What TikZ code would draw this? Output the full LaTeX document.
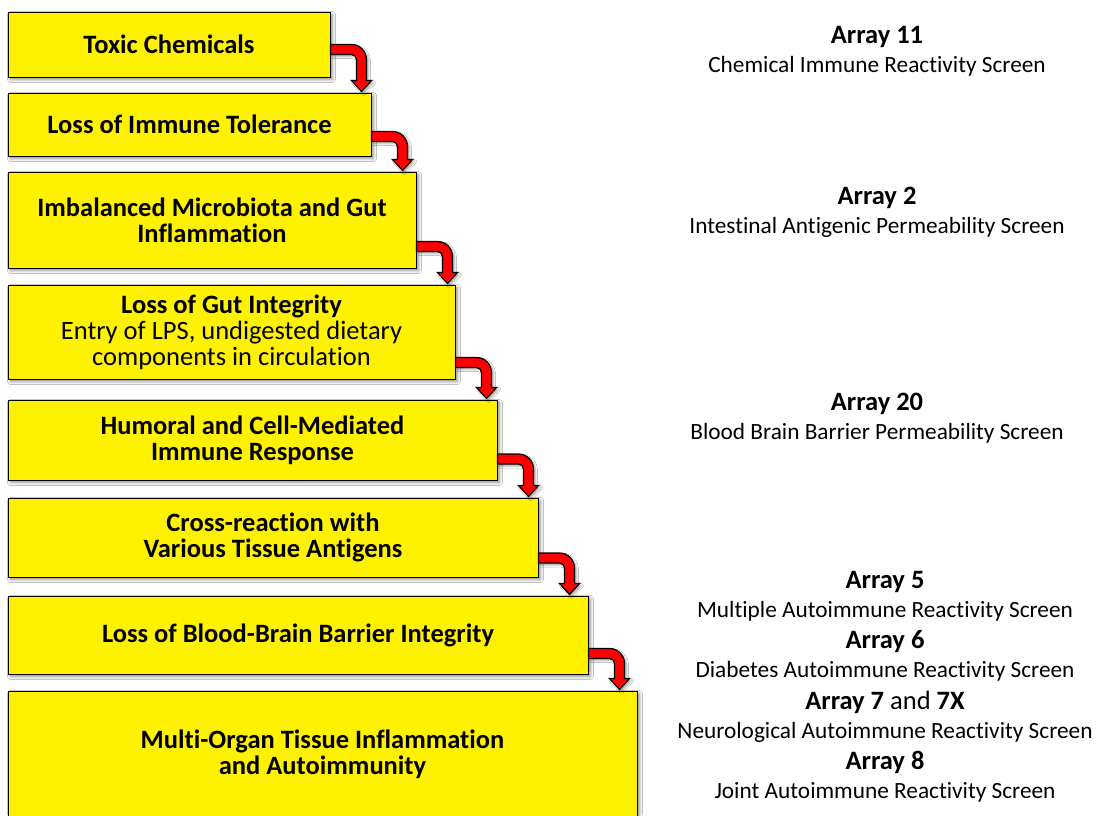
\documentclass[tikz,border=0pt]{standalone}
\usepackage{fontspec}
\setmainfont{Carlito}[Ligatures=NoCommon]
\usetikzlibrary{calc,shadows.blur}
\tikzset{
  stage/.style={draw=black, line width=1pt, fill=yellow, inner sep=0pt, align=center,
    font=\bfseries\fontsize{26.5}{26}\selectfont,
    blur shadow={shadow xshift=2.5pt, shadow yshift=-2.5pt, shadow blur radius=3pt, shadow opacity=45}},
  arr/.style={fill=red, draw=black, line width=1.2pt, line join=miter,
    blur shadow={shadow xshift=2pt, shadow yshift=-2pt, shadow blur radius=2pt, shadow opacity=35}},
  head/.style={font=\bfseries\fontsize{26.5}{30}\selectfont, anchor=base, inner sep=0pt},
  sub/.style={font=\fontsize{23.3}{30}\selectfont, anchor=base, inner sep=0pt},
}
\newcommand\bentarrow[3]{%
  \path[arr] let \p1=($(#1.south east)+(0,-#3)$), \p2=(#2.north) in
  (\x1,\y1+5pt) -- (\x1+21pt,\y1+5pt)
  .. controls (\x1+29.3pt,\y1+5pt) and (\x1+36pt,\y1-1.7pt) .. (\x1+36pt,\y1-10pt)
  -- (\x1+36pt,\y2+12pt) -- (\x1+41pt,\y2+12pt) -- (\x1+31pt,\y2+1pt)
  -- (\x1+21pt,\y2+12pt) -- (\x1+26pt,\y2+12pt) -- (\x1+26pt,\y1-10pt)
  .. controls (\x1+26pt,\y1-7.24pt) and (\x1+23.76pt,\y1-5pt) .. (\x1+21pt,\y1-5pt)
  -- (\x1,\y1-5pt) -- cycle;}
\begin{document}
\begin{tikzpicture}[x=1pt,y=-1pt]
\fill[white] (0,0) rectangle (1098,815);
\useasboundingbox (0,0) rectangle (1098,815);

\node[stage, minimum width=322pt, minimum height=65pt] (b1) at (169,44.5) {Toxic Chemicals};
\node[stage, minimum width=363pt, minimum height=63pt] (b2) at (189.5,124.5) {Loss of Immune Tolerance};
\node[stage, minimum width=408pt, minimum height=96pt] (b3) at (212,220) {Imbalanced Microbiota and Gut\\Inflammation};
\node[stage, minimum width=447pt, minimum height=94pt] (b4) at (231.5,332) {Loss of Gut Integrity\\\mdseries Entry of LPS, undigested dietary\\\mdseries components in circulation};
\node[stage, minimum width=489pt, minimum height=80pt] (b5) at (252.5,440) {Humoral and Cell-Mediated\\Immune Response};
\node[stage, minimum width=530pt, minimum height=79pt] (b6) at (273,537.5) {Cross-reaction with\\Various Tissue Antigens};
\node[stage, minimum width=580pt, minimum height=78pt] (b7) at (298,635) {Loss of Blood-Brain Barrier Integrity};
\node[stage, minimum width=629pt, minimum height=126pt] (b8) at (322.5,754) {Multi-Organ Tissue Inflammation\\and Autoimmunity};

\bentarrow{b1}{b2}{28}
\bentarrow{b2}{b3}{20}
\bentarrow{b3}{b4}{22}
\bentarrow{b4}{b5}{17}
\bentarrow{b5}{b6}{21.5}
\bentarrow{b6}{b7}{19.5}
\bentarrow{b7}{b8}{21}

\node[head] (h11) at (877,43) {Array 11};
\node[sub] (s11) at (877,72) {Chemical Immune Reactivity Screen};
\node[head] (h2) at (877,204) {Array 2};
\node[sub] (s2) at (877,233) {Intestinal Antigenic Permeability Screen};
\node[head] (h20) at (877,410) {Array 20};
\node[sub] (s20) at (877,439) {Blood Brain Barrier Permeability Screen};
\node[head] (h5) at (885,588) {Array 5};
\node[sub] (s5) at (885,617) {Multiple Autoimmune Reactivity Screen};
\node[head] (h6) at (885,648) {Array 6};
\node[sub] (s6) at (885,677) {Diabetes Autoimmune Reactivity Screen};
\node[head] (h7) at (885,709) {Array 7 {\mdseries and} 7X};
\node[sub] (s7) at (885,738) {Neurological Autoimmune Reactivity Screen};
\node[head] (h8) at (885,769) {Array 8};
\node[sub] (s8) at (885,798) {Joint Autoimmune Reactivity Screen};
\end{tikzpicture}
\end{document}
